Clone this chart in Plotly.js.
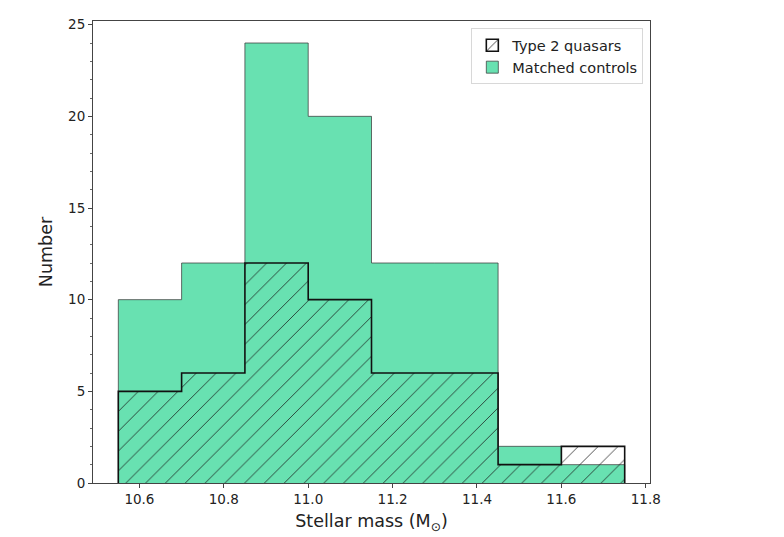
<!DOCTYPE html>
<html>
<head>
<meta charset="utf-8">
<script src="https://cdn.plot.ly/plotly-3.0.1.min.js"></script>
<style>
  html, body { margin: 0; padding: 0; background: #fff; }
  #chart { width: 784px; height: 537px; }
</style>
</head>
<body>
<div id="chart"></div>
<script>
// bin edges (stellar mass) and counts per bin
var binEdges = [10.55, 10.70, 10.85, 11.00, 11.15, 11.30, 11.45, 11.60, 11.75];
var controlCounts = [10, 12, 24, 20, 12, 12, 2, 1];
var quasarCounts = [5, 6, 12, 10, 6, 6, 1, 2];

var yTicks = [0, 5, 10, 15, 20, 25];
var xTicks = [10.6, 10.8, 11.0, 11.2, 11.4, 11.6, 11.8];

// turn counts into a closed step outline (like histtype='step')
function stepOutline(edges, counts) {
    var xs = [edges[0]];
    var ys = [0];
    for (var i = 0; i < counts.length; i++) {
        xs.push(edges[i]);
        ys.push(counts[i]);
    }
    xs.push(edges[edges.length - 1]);
    ys.push(counts[counts.length - 1]);
    xs.push(edges[edges.length - 1]);
    ys.push(0);
    return {x: xs, y: ys};
}

var ctl = stepOutline(binEdges, controlCounts);
var qso = stepOutline(binEdges, quasarCounts);

var green = '#68e1b1';
var hatch = {
    shape: '/',
    size: 14,
    solidity: 0.07,
    fgcolor: 'rgba(20,20,20,0.75)',
    bgcolor: 'rgba(0,0,0,0)'
};

data = [
    {
        name: 'Matched controls',
        type: 'scatter',
        mode: 'lines',
        x: ctl.x,
        y: ctl.y,
        line: {shape: 'hv', color: 'rgba(60,60,60,0.75)', width: 1},
        fill: 'tozeroy',
        fillcolor: green,
        showlegend: false,
        hoverinfo: 'skip'
    },
    {
        name: 'Type 2 quasars',
        type: 'scatter',
        mode: 'lines',
        x: qso.x,
        y: qso.y,
        line: {shape: 'hv', color: '#111', width: 1.6},
        fill: 'tozeroy',
        fillcolor: 'rgba(0,0,0,0)',
        fillpattern: hatch,
        showlegend: false,
        hoverinfo: 'skip'
    },
    // legend-only patches (box handles like matplotlib)
    {
        name: 'Type 2 quasars',
        type: 'bar',
        x: [null],
        y: [null],
        marker: {
            color: 'rgba(255,255,255,1)',
            line: {color: '#111', width: 1.6},
            pattern: {shape: '/', size: 10, solidity: 0.1, fgcolor: '#222', bgcolor: '#fff'}
        },
        legendrank: 1
    },
    {
        name: 'Matched controls',
        type: 'bar',
        x: [null],
        y: [null],
        marker: {color: green, line: {color: 'rgba(60,60,60,0.75)', width: 1}},
        legendrank: 2
    }
];

layout = {
    width: 784,
    height: 537,
    paper_bgcolor: '#fff',
    plot_bgcolor: '#fff',
    font: {family: 'DejaVu Sans, sans-serif', size: 13, color: '#222'},
    margin: {l: 93, r: 134, t: 21, b: 54},
    showlegend: true,
    legend: {
        x: 0.988,
        y: 0.984,
        xanchor: 'right',
        yanchor: 'top',
        bgcolor: 'rgba(255,255,255,0.9)',
        bordercolor: '#d8d8d8',
        borderwidth: 1,
        font: {size: 14.5, color: '#222'},
        traceorder: 'normal',
        tracegroupgap: 0,
        itemwidth: 30
    },
    xaxis: {
        range: [10.49, 11.81],
        tickvals: xTicks,
        ticktext: xTicks.map(function (v) { return v.toFixed(1); }),
        ticks: 'outside',
        ticklen: 4,
        tickcolor: '#444',
        showgrid: false,
        zeroline: false,
        showline: true,
        linecolor: '#444',
        linewidth: 1,
        mirror: true,
        tickfont: {size: 13.5},
        title: {text: 'Stellar mass (M<sub>⊙</sub>)', font: {size: 17.5}, standoff: 8}
    },
    yaxis: {
        range: [0, 25.2],
        tickvals: yTicks,
        ticks: 'outside',
        ticklen: 4,
        tickcolor: '#444',
        minor: {dtick: 1, ticks: 'outside', ticklen: 2, tickcolor: '#666', showgrid: false},
        showgrid: false,
        zeroline: false,
        showline: true,
        linecolor: '#444',
        linewidth: 1,
        mirror: true,
        tickfont: {size: 13.5},
        title: {text: 'Number', font: {size: 17.5}, standoff: 10}
    }
};

Plotly.newPlot('chart', data, layout, {displayModeBar: false, staticPlot: true});
</script>
</body>
</html>
